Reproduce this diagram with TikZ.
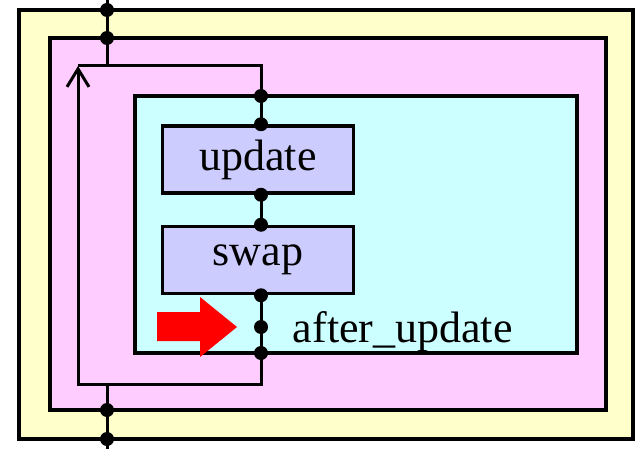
\documentclass[tikz,border=0pt]{standalone}
\usepackage{fontspec}
\setmainfont{Liberation Serif}
\usetikzlibrary{arrows.meta}

\definecolor{outerbg}{HTML}{FFFFCC}
\definecolor{loopbg}{HTML}{FFCCFF}
\definecolor{bodybg}{HTML}{CCFFFF}
\definecolor{stepbg}{HTML}{CCCCFF}

\begin{document}
\begin{tikzpicture}[
        x=1pt, y=-1pt,
        line width=3pt,
        every node/.style={font=\fontsize{44}{50}\selectfont},
        frame/.style={draw, line width=3.5pt},
        stepbox/.style={draw, line width=3.5pt, fill=stepbg, minimum width=191pt, minimum height=67pt, inner sep=0pt},
        dot/.style={circle, fill, draw=none, minimum size=14pt, inner sep=0pt},
        ar/.style={-, line width=3pt},
        back/.style={-{Straight Barb[length=18pt, width=22pt, line width=3pt]}, line width=3pt},
    ]
    \useasboundingbox (0,0) rectangle (636,449);

    % nested blocks
    \draw[frame, fill=outerbg] (19,10) rectangle (633,439);
    \draw[frame, fill=loopbg] (50,38) rectangle (606,410);
    \draw[frame, fill=bodybg] (135,96) rectangle (577,353);

    \node[stepbox](update) at (258,159.5) {update};
    \node[stepbox](swap) at (258,260) {swap};
    \node[anchor=base west](label) at (288,342) {after\_update};

    \coordinate (in) at (107,0);
    \coordinate (out) at (107,449);
    \coordinate (jt) at (107,66);
    \coordinate (jb) at (107,384);
    \coordinate (lt) at (78,66);
    \coordinate (lb) at (78,384);
    \coordinate (c1) at (261,96);
    \coordinate (c2) at (261,353);

    % wires
    \draw[ar] (in) -- (jt);
    \draw[ar] (jb) -- (out);
    \draw[ar] (lt) -| (c1) -- (update.north -| c1);
    \draw[ar] (update.south -| c1) -- (swap.north -| c1);
    \draw[ar] (swap.south -| c1) -- (c2);
    \draw[back] (c2) |- (lb) -- (lt);

    % connection points
    \node[dot](y1) at (107,10) {};
    \node[dot](p1) at (107,38) {};
    \node[dot](p2) at (107,410) {};
    \node[dot](y2) at (107,439) {};
    \node[dot](d1) at (c1) {};
    \node[dot](u1) at (update.north -| c1) {};
    \node[dot](u2) at (update.south -| c1) {};
    \node[dot](s1) at (swap.north -| c1) {};
    \node[dot](s2) at (swap.south -| c1) {};
    \node[dot](au) at (261,327) {};
    \node[dot](d2) at (c2) {};

    % marker
    \fill[red] (157,312) -- (200,312) -- (200,297) -- (237,327)
        -- (200,357) -- (200,341) -- (157,341) -- cycle;
\end{tikzpicture}
\end{document}
